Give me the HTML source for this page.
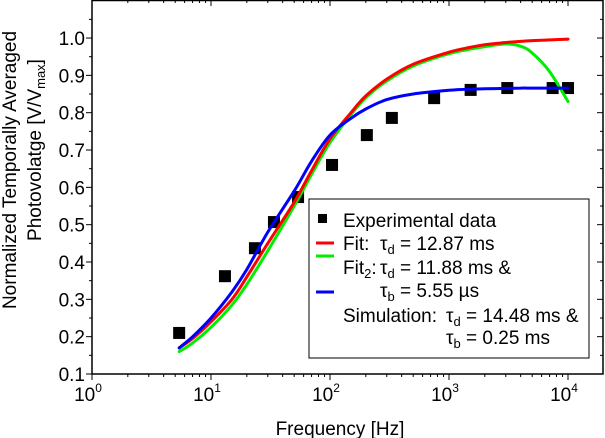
<!DOCTYPE html>
<html><head><meta charset="utf-8"><style>
html,body{margin:0;padding:0;background:#fff;}
svg{display:block;font-family:"Liberation Sans",Arial,sans-serif;}
</style></head><body>
<svg id="chart" width="605" height="438" viewBox="0 0 605 438" xmlns="http://www.w3.org/2000/svg">
<g id="axes"></g>
<g id="series"></g>
<g id="legend">
<rect x="309" y="199" width="280" height="159" fill="#fff" stroke="#000" stroke-width="1"/>
<rect x="318" y="214" width="9" height="9" fill="#000"/>
<line x1="316" y1="243" x2="334" y2="243" stroke="#ff0000" stroke-width="3"/>
<line x1="316" y1="256" x2="334" y2="256" stroke="#00ee00" stroke-width="3"/>
<line x1="316" y1="292" x2="334" y2="292" stroke="#0000ff" stroke-width="3"/>
<g font-size="19" fill="#000">
<text x="343" y="227">Experimental data</text>
<text x="343" y="250">Fit:<tspan x="380">τ</tspan><tspan font-size="13" dy="4">d</tspan><tspan dy="-4"> = 12.87 ms</tspan></text>
<text x="343" y="274">Fit<tspan font-size="13" dy="4">2</tspan><tspan dy="-4">:</tspan><tspan x="380">τ</tspan><tspan font-size="13" dy="4">d</tspan><tspan dy="-4"> = 11.88 ms &amp;</tspan></text>
<text x="380" y="297">τ<tspan font-size="13" dy="4">b</tspan><tspan dy="-4"> = 5.55 µs</tspan></text>
<text x="343" y="322">Simulation:<tspan x="446">τ</tspan><tspan font-size="13" dy="4">d</tspan><tspan dy="-4"> = 14.48 ms &amp;</tspan></text>
<text x="446" y="344">τ<tspan font-size="13" dy="4">b</tspan><tspan dy="-4"> = 0.25 ms</tspan></text>
</g>
</g>
<text x="340" y="435" font-size="19" text-anchor="middle">Frequency [Hz]</text>
<text transform="translate(16,170) rotate(-90)" font-size="19" text-anchor="middle">Normalized Temporally Averaged</text>
<text transform="translate(41,150) rotate(-90)" font-size="19" text-anchor="middle">Photovolatge [V/V<tspan font-size="13" dy="4">max</tspan><tspan dy="-4">]</tspan></text>
</svg>
<script>
const expFreq=[5.4,13.1,23.4,33.8,53.9,104,204,331,750,1520,3090,7430,10000];
const expVal=[0.21,0.362,0.437,0.507,0.574,0.66,0.74,0.786,0.839,0.861,0.866,0.866,0.866];
const curveFreq=[5.4,7,10,15,20,30,50,70,100,150,200,300,500,1000,1500,2000,3000,4000,5000,7000,10000];
const fitVal=[0.17,0.195,0.24,0.30,0.36,0.45,0.56,0.645,0.73,0.80,0.845,0.89,0.93,0.962,0.975,0.982,0.988,0.991,0.993,0.995,0.997];
const fit2Val=[0.16,0.183,0.225,0.285,0.34,0.43,0.55,0.635,0.72,0.795,0.84,0.885,0.925,0.958,0.97,0.977,0.984,0.978,0.96,0.91,0.83];
const simVal=[0.17,0.20,0.25,0.32,0.38,0.48,0.59,0.67,0.74,0.785,0.81,0.835,0.85,0.86,0.863,0.864,0.865,0.866,0.866,0.866,0.866];
const yTicks=["0.1","0.2","0.3","0.4","0.5","0.6","0.7","0.8","0.9","1.0"];
const xExps=["0","1","2","3","4"];

const L=92,R=603,T=0,B=374;
const xs=f=>L+Math.log10(f)*119;
const ys=v=>B-(v-0.1)*373.3;
const NS="http://www.w3.org/2000/svg";
function mk(tag,parent,attrs){const e=document.createElementNS(NS,tag);for(const k in attrs)e.setAttribute(k,attrs[k]);parent.appendChild(e);return e;}
const ax=document.getElementById('axes');
const fr=mk('rect',ax,{x:L,y:T+0.5,width:R-L,height:B-T-0.5,fill:'none',stroke:'#000','stroke-width':1.5});


for(let i=0;i<=19;i++){const v=0.1+i*0.05;const y=ys(v);const major=i%2===0;const len=major?6:3;
 const t=mk('line',ax,{x1:L-len,y1:y,x2:L,y2:y,stroke:'#000','stroke-width':1});
 
 
 const t2=mk('line',ax,{x1:R-len,y1:y,x2:R,y2:y,stroke:'#000','stroke-width':1});
 
 
}
yTicks.forEach((s,i)=>{const y=ys(parseFloat(s));const t=mk('text',ax,{x:85,y:y+7,'font-size':19,'text-anchor':'end'});t.textContent=s;
 
 });
for(let d=0;d<=4;d++){for(let m=1;m<=9;m++){const f=m*Math.pow(10,d);const x=xs(f);if(x>R)continue;const major=m===1;const len=major?6:3;
 const t=mk('line',ax,{x1:x,y1:B,x2:x,y2:B+len,stroke:'#000','stroke-width':1});
 
 
 const t2=mk('line',ax,{x1:x,y1:T,x2:x,y2:T+len,stroke:'#000','stroke-width':1});
 
 
}}
xExps.forEach(e=>{const x=xs(Math.pow(10,+e));const t=mk('text',ax,{x:x-4,y:401,'font-size':19,'text-anchor':'middle'});
 
 
 t.textContent='10';const s=mk('tspan',t,{'font-size':12,dy:-9});s.textContent=e;});
const se=document.getElementById('series');
function curve(vals,color,name){
 const P=curveFreq.map((f,i)=>[xs(f),ys(vals[i])]);
 let d='M'+P[0][0].toFixed(1)+','+P[0][1].toFixed(1);
 for(let i=0;i<P.length-1;i++){const p0=P[Math.max(0,i-1)],p1=P[i],p2=P[i+1],p3=P[Math.min(P.length-1,i+2)];
  const c1=[p1[0]+(p2[0]-p0[0])/6,p1[1]+(p2[1]-p0[1])/6],c2=[p2[0]-(p3[0]-p1[0])/6,p2[1]-(p3[1]-p1[1])/6];
  d+=' C'+c1.map(n=>n.toFixed(1)).join(',')+' '+c2.map(n=>n.toFixed(1)).join(',')+' '+p2.map(n=>n.toFixed(1)).join(',');}
 const p=mk('path',se,{d:d,fill:'none',stroke:color,'stroke-width':3,'stroke-linejoin':'round','stroke-linecap':'round'});
 
 }
expFreq.forEach((f,i)=>{const r=mk('rect',se,{x:xs(f)-6,y:ys(expVal[i])-6,width:12,height:12,fill:'#000'});
 
 });
curve(fit2Val,'#00ee00','fit2-curve');
curve(fitVal,'#ff0000','fit-curve');
curve(simVal,'#0000ff','simulation-curve');
se.parentNode.appendChild(document.getElementById('legend'));
</script>
</body></html>
